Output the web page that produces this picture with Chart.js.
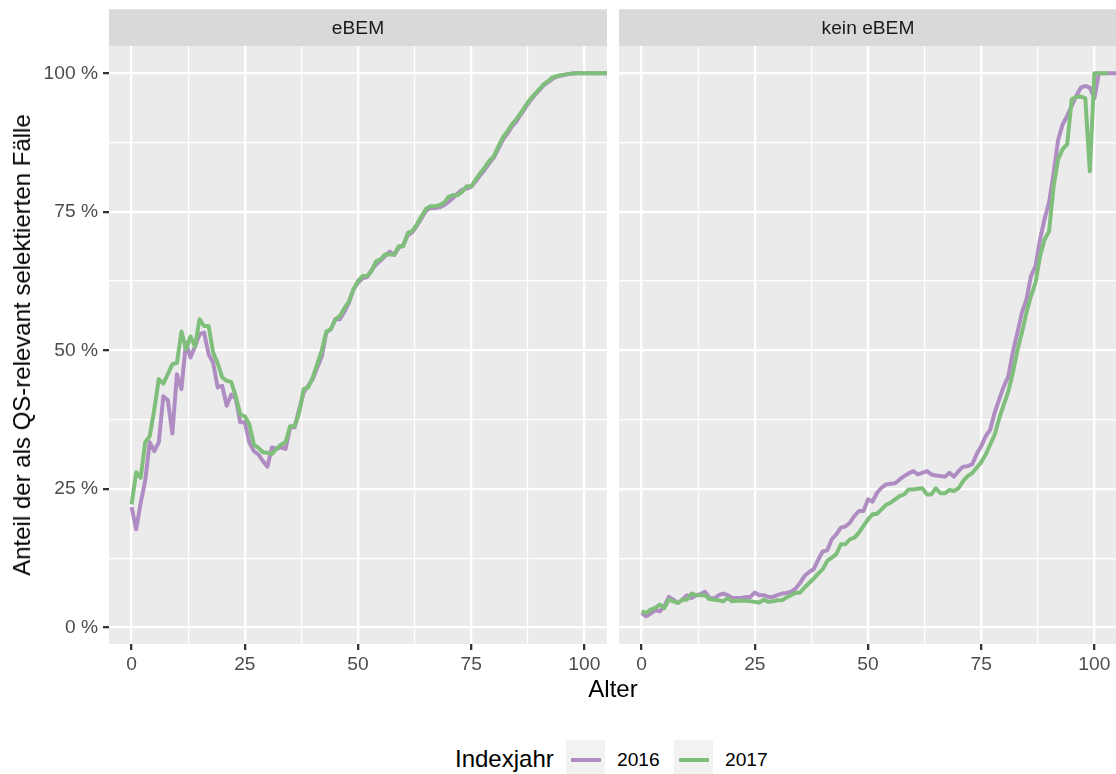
<!DOCTYPE html>
<html>
<head>
<meta charset="utf-8">
<script src="https://cdn.jsdelivr.net/npm/chart.js@4.4.1/dist/chart.umd.min.js"></script>
<style>
  html, body { margin: 0; padding: 0; width: 1116px; height: 774px; overflow: hidden; background: #fff; }
  body { position: relative; font-family: "Liberation Sans", Arial, sans-serif; }
  canvas { position: absolute; top: 0; }
  #left { left: 0; }
  #right { left: 600px; }
  .title { position: absolute; font-size: 24px; line-height: 24px; color: #000; white-space: nowrap; }
  #ytitle { left: 22px; top: 345px; transform: translate(-50%, -50%) rotate(-90deg); }
  #xtitle { left: 613px; top: 689px; transform: translate(-50%, -50%); }
  #legtitle { left: 455px; top: 747px; }
  .key { position: absolute; top: 740px; width: 39px; height: 39px; background: #F2F2F2; }
  .key div { position: absolute; left: 5px; width: 30px; top: 17.5px; height: 4px; }
  .leglabel { position: absolute; top: 750px; font-size: 19.2px; line-height: 19px; color: #000; }
</style>
</head>
<body>
<canvas id="left" width="612" height="700"></canvas>
<canvas id="right" width="517" height="700"></canvas>
<div class="title" id="ytitle">Anteil der als QS-relevant selektierten Fälle</div>
<div class="title" id="xtitle">Alter</div>
<div class="title" id="legtitle">Indexjahr</div>
<div class="key" style="left:566px"><div style="background:#AF8DC3"></div></div>
<div class="leglabel" style="left:617px">2016</div>
<div class="key" style="left:674px"><div style="background:#7FBF7B"></div></div>
<div class="leglabel" style="left:725px">2017</div>
<script>
// Alter (x values)
const ages = [0,1,2,3,4,5,6,7,8,9,10,11,12,13,14,15,16,17,18,19,20,21,22,23,24,25,26,27,28,29,
  30,31,32,33,34,35,36,37,38,39,40,41,42,43,44,45,46,47,48,49,50,51,52,53,54,55,56,57,58,59,
  60,61,62,63,64,65,66,67,68,69,70,71,72,73,74,75,76,77,78,79,80,81,82,83,84,85,86,87,88,89,
  90,91,92,93,94,95,96,97,98,99,100,101,102,103,104,105];

// eBEM panel
const ebem2016 = [0.217,0.177,0.225,0.265,0.334,0.318,0.334,0.417,0.41,0.35,
  0.457,0.43,0.514,0.487,0.507,0.529,0.532,0.493,0.478,0.433,
  0.436,0.40,0.42,0.413,0.37,0.37,0.334,0.318,0.312,0.30,
  0.29,0.325,0.322,0.325,0.322,0.361,0.361,0.393,0.424,0.436,
  0.448,0.469,0.489,0.532,0.538,0.556,0.556,0.570,0.586,0.61,
  0.622,0.63,0.632,0.645,0.655,0.662,0.67,0.678,0.672,0.685,
  0.69,0.708,0.713,0.725,0.738,0.752,0.757,0.757,0.758,0.762,
  0.768,0.775,0.783,0.79,0.792,0.795,0.805,0.816,0.826,0.838,
  0.848,0.864,0.88,0.891,0.904,0.913,0.926,0.938,0.95,0.96,
  0.969,0.978,0.984,0.99,0.994,0.996,0.998,0.999,1,1,
  1,1,1,1,1,1];
const ebem2017 = [0.222,0.28,0.27,0.334,0.345,0.393,0.448,0.44,0.457,0.475,
  0.477,0.534,0.502,0.525,0.507,0.556,0.544,0.544,0.496,0.477,
  0.451,0.445,0.443,0.417,0.384,0.381,0.366,0.33,0.324,0.316,
  0.315,0.313,0.322,0.33,0.334,0.363,0.363,0.387,0.43,0.433,
  0.451,0.475,0.5,0.534,0.538,0.556,0.562,0.576,0.588,0.61,
  0.625,0.634,0.634,0.643,0.661,0.664,0.673,0.673,0.673,0.688,
  0.688,0.712,0.715,0.727,0.742,0.755,0.76,0.76,0.762,0.766,
  0.777,0.78,0.78,0.786,0.796,0.796,0.808,0.82,0.83,0.842,
  0.85,0.868,0.884,0.895,0.908,0.917,0.929,0.941,0.953,0.962,
  0.971,0.98,0.986,0.993,0.995,0.997,0.998,0.999,1,1,
  1,1,1,1,1,1];

// kein eBEM panel
const kein2016 = [0.026,0.02,0.025,0.031,0.029,0.038,0.055,0.05,0.044,0.05,
  0.058,0.053,0.058,0.06,0.064,0.053,0.052,0.058,0.061,0.058,
  0.053,0.053,0.053,0.055,0.055,0.063,0.058,0.058,0.055,0.055,
  0.058,0.061,0.062,0.064,0.07,0.08,0.093,0.1,0.105,0.122,
  0.137,0.139,0.159,0.168,0.18,0.182,0.189,0.201,0.21,0.21,
  0.231,0.227,0.243,0.252,0.258,0.259,0.26,0.267,0.273,0.278,
  0.282,0.276,0.279,0.282,0.276,0.274,0.273,0.272,0.279,0.272,
  0.282,0.29,0.291,0.294,0.313,0.327,0.345,0.357,0.388,0.412,
  0.435,0.453,0.497,0.532,0.568,0.592,0.634,0.652,0.7,0.737,
  0.767,0.82,0.88,0.908,0.923,0.941,0.959,0.974,0.977,0.974,
  0.955,1,1,1,1,1];
const kein2017 = [0.029,0.026,0.032,0.035,0.041,0.035,0.05,0.047,0.044,0.05,
  0.05,0.061,0.058,0.058,0.058,0.051,0.05,0.049,0.047,0.053,
  0.047,0.048,0.048,0.048,0.047,0.046,0.045,0.05,0.046,0.047,
  0.049,0.049,0.054,0.058,0.062,0.063,0.072,0.08,0.088,0.097,
  0.105,0.12,0.126,0.132,0.15,0.15,0.159,0.162,0.171,0.183,
  0.195,0.204,0.205,0.213,0.221,0.225,0.231,0.237,0.24,0.249,
  0.249,0.25,0.251,0.24,0.24,0.251,0.242,0.242,0.248,0.246,
  0.251,0.264,0.273,0.278,0.288,0.298,0.312,0.33,0.348,0.378,
  0.402,0.426,0.46,0.5,0.532,0.568,0.598,0.622,0.67,0.7,
  0.715,0.796,0.845,0.863,0.872,0.953,0.957,0.958,0.955,0.823,
  1,1,1,1];

// ticks (major + minor grid)
const xGrid = [0, 12.5, 25, 37.5, 50, 62.5, 75, 87.5, 100];
const xLabels = ["0", "", "25", "", "50", "", "75", "", "100"];
const yGrid = [0, 0.125, 0.25, 0.375, 0.5, 0.625, 0.75, 0.875, 1];
const yLabels = ["0 %", "", "25 %", "", "50 %", "", "75 %", "", "100 %"];

const purple = "#AF8DC3";
const green = "#7FBF7B";

const toPoints = arr => arr.map((v, i) => ({ x: ages[i], y: v }));

// grey panel + facet strip
const panelPlugin = {
  id: "panel",
  beforeDraw(chart, args, opts) {
    const { ctx, chartArea: a } = chart;
    ctx.save();
    ctx.fillStyle = "#EBEBEB";
    ctx.fillRect(a.left, a.top, a.right - a.left, a.bottom - a.top);
    ctx.fillStyle = "#D9D9D9";
    ctx.fillRect(a.left, 9.3, a.right - a.left, a.top - 9.3);
    ctx.fillStyle = "#1A1A1A";
    ctx.font = '19.2px "Liberation Sans", Arial, sans-serif';
    ctx.textAlign = "center";
    ctx.textBaseline = "middle";
    ctx.fillText(opts.label, (a.left + a.right) / 2, (9.3 + a.top) / 2 + 1);
    ctx.restore();
  }
};

function gridStyle(isMajor) {
  return {
    color: "#FFFFFF",
    lineWidth: ctx => isMajor(ctx.index) ? 2.3 : 1.15,
    tickColor: ctx => isMajor(ctx.index) ? "#333333" : "rgba(0,0,0,0)",
    tickWidth: 2.3,
    tickLength: 6
  };
}

function makePanel(id, label, d2016, d2017, yAxisWidth, showY, padRight) {
  const ctx = document.getElementById(id).getContext("2d");
  return new Chart(ctx, {
    type: "line",
    data: {
      datasets: [
        { label: "2016", data: toPoints(d2016), borderColor: purple, order: 1 },
        { label: "2017", data: toPoints(d2017), borderColor: green, order: 0 }
      ]
    },
    plugins: [panelPlugin],
    options: {
      responsive: false,
      animation: false,
      layout: { padding: { top: 46.1, right: padRight, bottom: 0, left: 0 } },
      datasets: {
        line: { borderWidth: 4, pointRadius: 0, tension: 0, borderJoinStyle: "round", clip: 0, fill: false }
      },
      plugins: {
        legend: { display: false },
        tooltip: { enabled: false },
        panel: { label: label }
      },
      scales: {
        x: {
          type: "linear",
          min: -5,
          max: 105,
          border: { display: false },
          grid: gridStyle(i => xLabels[i] !== ""),
          afterBuildTicks: s => { s.ticks = xGrid.map(v => ({ value: v })); },
          afterFit: s => { s.height = 56; },
          ticks: {
            autoSkip: false,
            maxRotation: 0,
            padding: 3,
            color: "#4D4D4D",
            font: { family: '"Liberation Sans", Arial, sans-serif', size: 19.2 },
            callback: (v, i) => xLabels[i]
          }
        },
        y: {
          type: "linear",
          min: -0.03,
          max: 1.049,
          border: { display: false },
          grid: Object.assign(gridStyle(i => yLabels[i] !== ""), { drawTicks: showY }),
          afterBuildTicks: s => { s.ticks = yGrid.map(v => ({ value: v })); },
          afterFit: s => { s.width = yAxisWidth; },
          ticks: {
            display: showY,
            autoSkip: false,
            padding: 5,
            color: "#4D4D4D",
            font: { family: '"Liberation Sans", Arial, sans-serif', size: 19.2 },
            callback: (v, i) => yLabels[i]
          }
        }
      }
    }
  });
}

makePanel("left", "eBEM", ebem2016, ebem2017, 109, true, 5);
makePanel("right", "kein eBEM", kein2016, kein2017, 19, false, 0);
</script>
</body>
</html>
